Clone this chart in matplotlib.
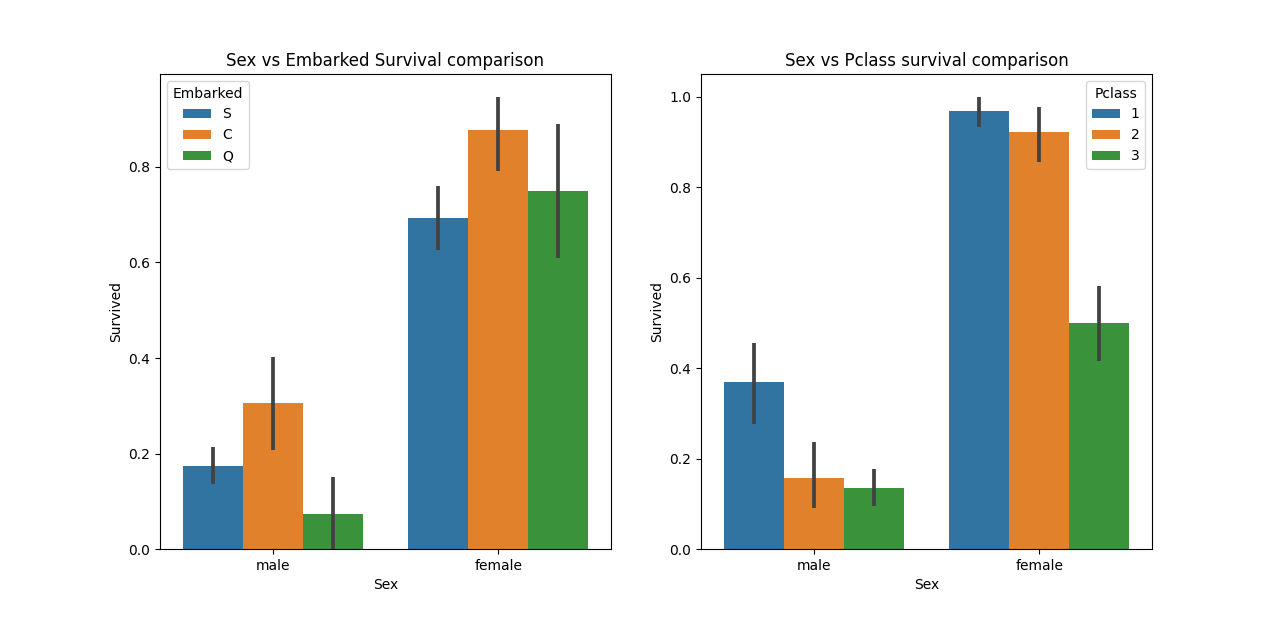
import numpy as np
import matplotlib
matplotlib.use("Agg")
import matplotlib.pyplot as plt

sexes = ["male", "female"]

embarked = ["S", "C", "Q"]
emb_mean = {"S": [0.174, 0.692], "C": [0.305, 0.877], "Q": [0.073, 0.750]}
emb_lo = {"S": [0.136, 0.626], "C": [0.207, 0.792], "Q": [0.0, 0.609]}
emb_hi = {"S": [0.214, 0.760], "C": [0.402, 0.947], "Q": [0.150, 0.890]}

pclass = ["1", "2", "3"]
cls_mean = {"1": [0.369, 0.968], "2": [0.157, 0.921], "3": [0.135, 0.500]}
cls_lo = {"1": [0.277, 0.934], "2": [0.091, 0.856], "3": [0.095, 0.416]}
cls_hi = {"1": [0.456, 1.0], "2": [0.237, 0.978], "3": [0.177, 0.582]}

colors = ["#3274a1", "#e1812c", "#3a923a"]


def draw(ax, groups, mean, lo, hi, title, legend_title, loc):
    x = np.arange(len(sexes))
    w = 0.8 / len(groups)
    for i, g in enumerate(groups):
        pos = x - 0.4 + w * (i + 0.5)
        ax.bar(pos, mean[g], width=w, color=colors[i], label=g)
        ax.vlines(pos, lo[g], hi[g], color="#424242", linewidth=2.7, zorder=3)
    ax.set_xticks(x)
    ax.set_xticklabels(sexes)
    ax.set_xlim(-0.5, len(sexes) - 0.5)
    ax.set_xlabel("Sex")
    ax.set_ylabel("Survived")
    ax.set_title(title)
    ax.legend(title=legend_title, loc=loc)


fig, (ax1, ax2) = plt.subplots(1, 2, figsize=(12.8, 6.17), dpi=100)
draw(ax1, embarked, emb_mean, emb_lo, emb_hi,
     "Sex vs Embarked Survival comparison", "Embarked", "upper left")
draw(ax2, pclass, cls_mean, cls_lo, cls_hi,
     "Sex vs Pclass survival comparison", "Pclass", "upper right")

fig.savefig("out.png", dpi=100)
